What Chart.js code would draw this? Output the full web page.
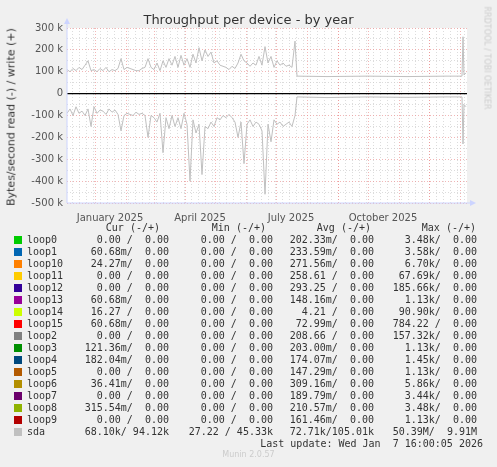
<!DOCTYPE html>
<html><head><meta charset="utf-8">
<script src="https://cdn.jsdelivr.net/npm/chart.js@4/dist/chart.umd.min.js"></script>
<style>
body{margin:0;background:#f0f0f0;width:497px;height:467px;overflow:hidden;font-family:"DejaVu Sans",sans-serif;position:relative}
#wrap{position:absolute;left:0;top:0;width:497px;height:225px}
.t{position:absolute;white-space:pre;font-family:"DejaVu Sans Mono",monospace;font-size:10px;color:#333;line-height:12px}
.sq{position:absolute;width:8px;height:8px}
</style></head><body>
<div id="wrap"><canvas id="c"></canvas></div>
<div style="position:absolute;left:0;width:497px;top:12px;text-align:center;font-size:13px;color:#333">Throughput per device - by year</div>
<div style="position:absolute;left:11px;top:117px;transform:translate(-50%,-50%) rotate(-90deg);font-size:11px;color:#333;white-space:nowrap">Bytes/second read (-) / write (+)</div>
<div style="position:absolute;left:487px;top:58px;transform:translate(-50%,-50%) rotate(90deg);font-size:8px;color:#ccc;white-space:nowrap">RRDTOOL / TOBI OETIKER</div>
<div id="leg"></div>
<script>
const days=[0,3,6,9,12,15,18,21,24,27,30,33,36,39,42,45,48,51,54,57,60,63,66,69,72,75,78,81,84,87,90,93,96,99,102,105,108,111,114,117,120,123,126,129,132,135,138,141,144,147,150,153,156,159,162,165,168,171,174,177,180,183,186,189,192,195,198,201,204,207,210,213,216,219,222,225,228,230,260,300,340,380,395,396,397,399];
const sdaWrite=[110,100,115,105,120,110,130,150,105,110,100,115,105,120,100,110,105,115,160,110,120,115,110,105,105,115,120,160,120,110,140,105,150,120,160,130,170,120,175,130,160,120,180,140,210,150,200,170,190,140,150,130,125,120,110,125,115,140,180,150,140,125,140,130,170,130,215,140,170,120,150,130,140,125,130,120,240,80,78,80,78,80,80,260,85,95];
const sdaRead=[-90,-70,-100,-60,-90,-80,-100,-70,-150,-60,-90,-75,-80,-95,-70,-85,-75,-95,-170,-100,-90,-95,-100,-85,-95,-90,-100,-200,-100,-110,-130,-90,-270,-110,-160,-100,-150,-110,-160,-90,-140,-400,-120,-180,-140,-370,-150,-160,-130,-150,-110,-120,-100,-110,-95,-110,-130,-200,-130,-320,-140,-120,-150,-130,-140,-170,-460,-140,-220,-120,-140,-130,-150,-140,-130,-150,-100,-15,-18,-15,-17,-15,-15,-230,-50,-60];
const monthDays=[28,59,87,118,148,179,209,240,271,301,332,362,393];
const labelDays=[43,133,224,316];
const xLabels=["January 2025","April 2025","July 2025","October 2025"];
const names=["loop0","loop1","loop10","loop11","loop12","loop13","loop14","loop15","loop2","loop3","loop4","loop5","loop6","loop7","loop8","loop9","sda"];
const colors=["#00cc00","#0066b3","#ff8000","#ffcc00","#330099","#990099","#ccff00","#ff0000","#808080","#008f00","#00487d","#b35a00","#b38f00","#6b006b","#8fb300","#b30000","#c0c0c0"];
const cur=["0.00 /  0.00","60.68m/  0.00","24.27m/  0.00","0.00 /  0.00","0.00 /  0.00","60.68m/  0.00","16.27 /  0.00","60.68m/  0.00","0.00 /  0.00","121.36m/  0.00","182.04m/  0.00","0.00 /  0.00","36.41m/  0.00","0.00 /  0.00","315.54m/  0.00","0.00 /  0.00","68.10k/ 94.12k"];
const mn=["0.00 /  0.00","0.00 /  0.00","0.00 /  0.00","0.00 /  0.00","0.00 /  0.00","0.00 /  0.00","0.00 /  0.00","0.00 /  0.00","0.00 /  0.00","0.00 /  0.00","0.00 /  0.00","0.00 /  0.00","0.00 /  0.00","0.00 /  0.00","0.00 /  0.00","0.00 /  0.00","27.22 / 45.33k"];
const avg=["202.33m/  0.00","233.59m/  0.00","271.56m/  0.00","258.61 /  0.00","293.25 /  0.00","148.16m/  0.00","4.21 /  0.00","72.99m/  0.00","208.66 /  0.00","203.00m/  0.00","174.07m/  0.00","147.29m/  0.00","309.16m/  0.00","189.79m/  0.00","210.57m/  0.00","161.46m/  0.00","72.71k/105.01k"];
const mx=["3.48k/  0.00","3.58k/  0.00","6.70k/  0.00","67.69k/  0.00","185.66k/  0.00","1.13k/  0.00","90.90k/  0.00","784.22 /  0.00","157.32k/  0.00","1.13k/  0.00","1.45k/  0.00","1.13k/  0.00","5.86k/  0.00","3.44k/  0.00","3.48k/  0.00","1.13k/  0.00","50.39M/  9.91M"];

const leg=document.getElementById('leg');
function txt(s,x,y,right,extra){const d=document.createElement('div');d.className='t';d.textContent=s;d.style.top=(y-6)+'px';if(right){d.style.right=(497-x)+'px'}else d.style.left=x+'px';if(extra)Object.assign(d.style,extra);leg.appendChild(d);}
const cols=[169,273,374,477];
["Cur (-/+)","Min (-/+)","Avg (-/+)","Max (-/+)"].forEach((h,i)=>txt(h,[160,266,371,476][i],228,true));
names.forEach((n,i)=>{const y=239.7+i*12;const s=document.createElement('div');s.className='sq';s.style.left='14px';s.style.top=(y-4)+'px';s.style.background=colors[i];leg.appendChild(s);
 txt(n,27,y,false);txt(cur[i],cols[0],y,true);txt(mn[i],cols[1],y,true);txt(avg[i],cols[2],y,true);txt(mx[i],cols[3],y,true);});
txt("Last update: Wed Jan  7 16:00:05 2026",483,443.5,true);
txt("Munin 2.0.57",248,455,false,{left:'0',width:'497px',textAlign:'center',color:'#ccc',fontFamily:'"DejaVu Sans",sans-serif',fontSize:'8px'});

const toPts=a=>a.map((v,i)=>({x:days[i],y:v*1000}));
const minorX=[];for(let d=5;d<400;d+=7)minorX.push(d);
const deco={id:'deco',
 beforeDraw(ch){const a=ch.chartArea,c=ch.ctx;c.save();c.fillStyle='#fff';c.fillRect(a.left,a.top,a.right-a.left,a.bottom-a.top);c.restore();},
 afterDatasetsDraw(ch){const a=ch.chartArea,c=ch.ctx,y0=ch.scales.y.getPixelForValue(0);c.save();
  c.strokeStyle='#000';c.lineWidth=1.2;c.beginPath();c.moveTo(a.left,y0);c.lineTo(a.right,y0);c.stroke();
  c.strokeStyle='#ccd4ff';c.fillStyle='#ccd4ff';c.lineWidth=1;c.beginPath();c.moveTo(a.left,a.bottom);c.lineTo(a.right+4,a.bottom);c.moveTo(a.left,a.bottom);c.lineTo(a.left,a.top-6);c.stroke();
  c.beginPath();c.moveTo(a.right+9,a.bottom);c.lineTo(a.right+3,a.bottom-3);c.lineTo(a.right+3,a.bottom+3);c.fill();
  c.beginPath();c.moveTo(a.left,a.top-10);c.lineTo(a.left-3,a.top-4);c.lineTo(a.left+3,a.top-4);c.fill();
  c.restore();}};
new Chart(document.getElementById('c'),{type:'line',
data:{datasets:[
{data:toPts(sdaWrite),borderColor:'#c0c0c0',borderWidth:1,pointRadius:0,tension:0},
{data:toPts(sdaRead),borderColor:'#c0c0c0',borderWidth:1,pointRadius:0,tension:0}]},
options:{responsive:true,maintainAspectRatio:false,animation:false,
layout:{padding:{left:0,right:30,top:28,bottom:0}},
plugins:{legend:{display:false},tooltip:{enabled:false}},
scales:{
x:{type:'linear',min:0,max:400,
 afterBuildTicks:s=>{s.ticks=[...minorX,...monthDays].sort((a,b)=>a-b).map(v=>({value:v}))},
 ticks:{display:false},border:{display:false,dash:[1,2]},
 grid:{drawTicks:false,color:c=>monthDays.includes(c.tick.value)?'rgba(235,140,140,0.8)':'rgba(200,200,200,0.8)',lineWidth:0.8},
 afterFit:s=>{s.height=0}},
x2:{type:'linear',position:'bottom',min:0,max:400,
 afterBuildTicks:s=>{s.ticks=labelDays.map(v=>({value:v}))},
 ticks:{autoSkip:false,maxRotation:0,padding:1,color:'#555',font:{size:10,family:'"DejaVu Sans"'},callback:v=>xLabels[labelDays.indexOf(v)]},
 grid:{display:false},border:{display:false},afterFit:s=>{s.height=22}},
y:{min:-500000,max:300000,
 afterBuildTicks:s=>{const t=[];for(let v=-500000;v<=300000;v+=50000)t.push({value:v});s.ticks=t},
 ticks:{autoSkip:false,padding:4,color:'#555',font:{size:10,family:'"DejaVu Sans"'},callback:v=>v%100000?'':(v===0?'0':(v/1000)+' k')},
 border:{display:false,dash:[1,2]},
 grid:{drawTicks:false,color:c=>c.tick.value%100000===0?'rgba(235,140,140,0.8)':'rgba(200,200,200,0.8)',lineWidth:0.8},
 afterFit:s=>{s.width=67}}}},
plugins:[deco]
});
</script></body></html>
